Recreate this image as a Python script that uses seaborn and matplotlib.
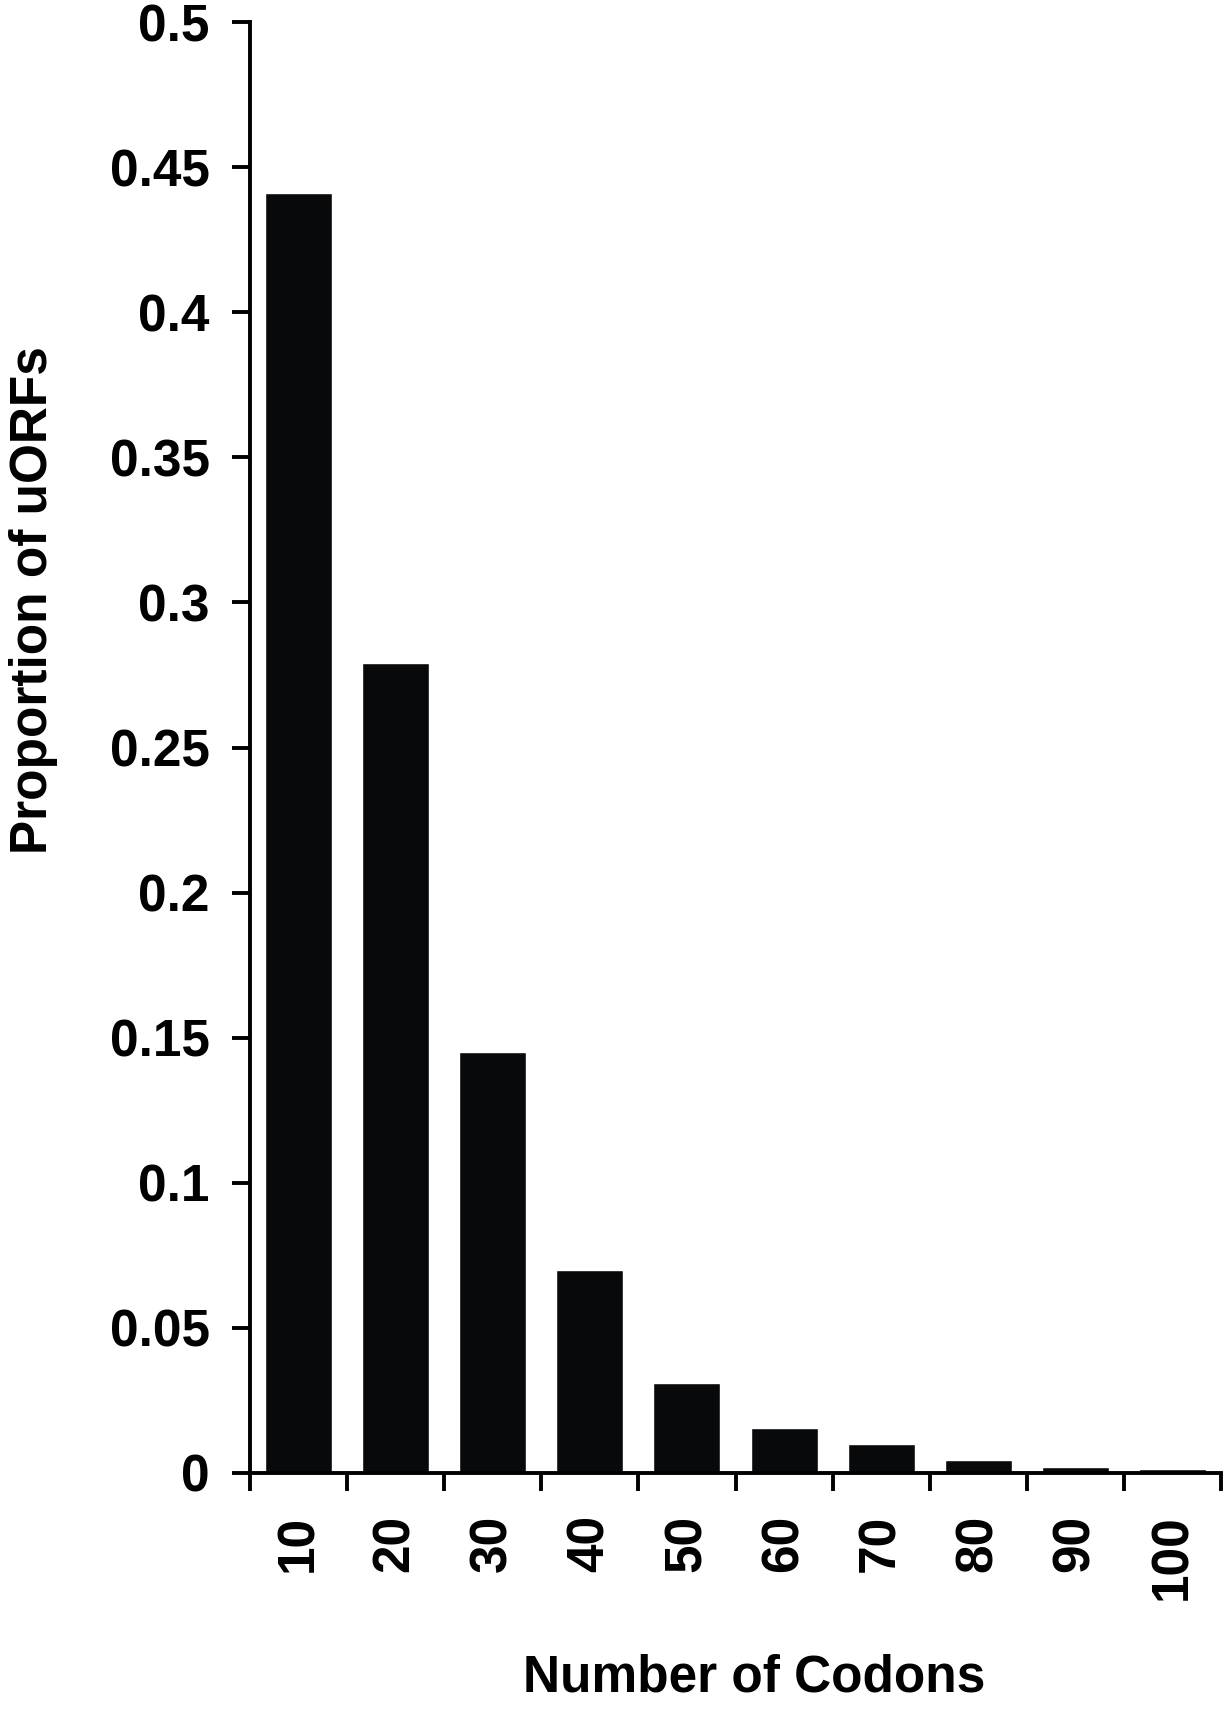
import numpy as np
import pandas as pd
import matplotlib
matplotlib.use("Agg")
import matplotlib.pyplot as plt
import seaborn as sns

# valores
codons = ["10", "20", "30", "40", "50", "60", "70", "80", "90", "100"]
proportions = [0.441, 0.279, 0.145, 0.070, 0.031, 0.0154, 0.0100, 0.0046, 0.0019, 0.0013]
y_ticks = [0, 0.05, 0.1, 0.15, 0.2, 0.25, 0.3, 0.35, 0.4, 0.45, 0.5]

df = pd.DataFrame({"codons": codons, "prop": proportions})

sns.set_style("white")
plt.rcParams["font.family"] = ["Liberation Sans", "DejaVu Sans"]
plt.rcParams["font.weight"] = "bold"
plt.rcParams["text.color"] = "black"
plt.rcParams["xtick.color"] = "black"
plt.rcParams["ytick.color"] = "black"

W, H = 1224, 1711
fig = plt.figure(figsize=(W / 100, H / 100), dpi=100)
ax = fig.add_axes([250 / W, 1 - 1473 / H, (1221 - 250) / W, (1473 - 22) / H])

sns.barplot(data=df, x="codons", y="prop", order=codons, color="#08090b",
            saturation=1, width=0.69, ax=ax)

ax.set_xlim(-0.5, len(codons) - 0.5)
ax.set_ylim(0, 0.5)
sns.despine(ax=ax)
for s in ["left", "bottom"]:
    ax.spines[s].set_linewidth(2.8)
    ax.spines[s].set_color("black")

ax.set_yticks(y_ticks)
ax.set_yticklabels(["%g" % v for v in y_ticks])
ax.tick_params(axis="y", left=True, length=13, width=2.8, pad=16, labelsize=37,
               color="black", labelcolor="black")

# ticks nas bordas das categorias, rótulos no centro
ax.set_xticks(np.arange(-0.5, len(codons), 1))
ax.set_xticklabels([""] * (len(codons) + 1))
ax.tick_params(axis="x", which="major", bottom=True, length=13, width=2.8, color="black")
ax.set_xticks(np.arange(len(codons)), minor=True)
ax.set_xticklabels(codons, minor=True, rotation=90, va="top", ha="center")
ax.tick_params(axis="x", which="minor", bottom=True, length=0, pad=30, labelsize=37,
               labelcolor="black")

ax.set_xlabel("")
ax.set_ylabel("")
fig.text(754 / W, 1 - 1692 / H, "Number of Codons", ha="center", va="baseline",
         fontsize=37, fontweight="bold", color="black")
fig.text(9 / W, 1 - 600 / H, "Proportion of uORFs", rotation=90, ha="left",
         va="center", fontsize=37, fontweight="bold", color="black")

fig.savefig("out.png", dpi=100, facecolor="white")
